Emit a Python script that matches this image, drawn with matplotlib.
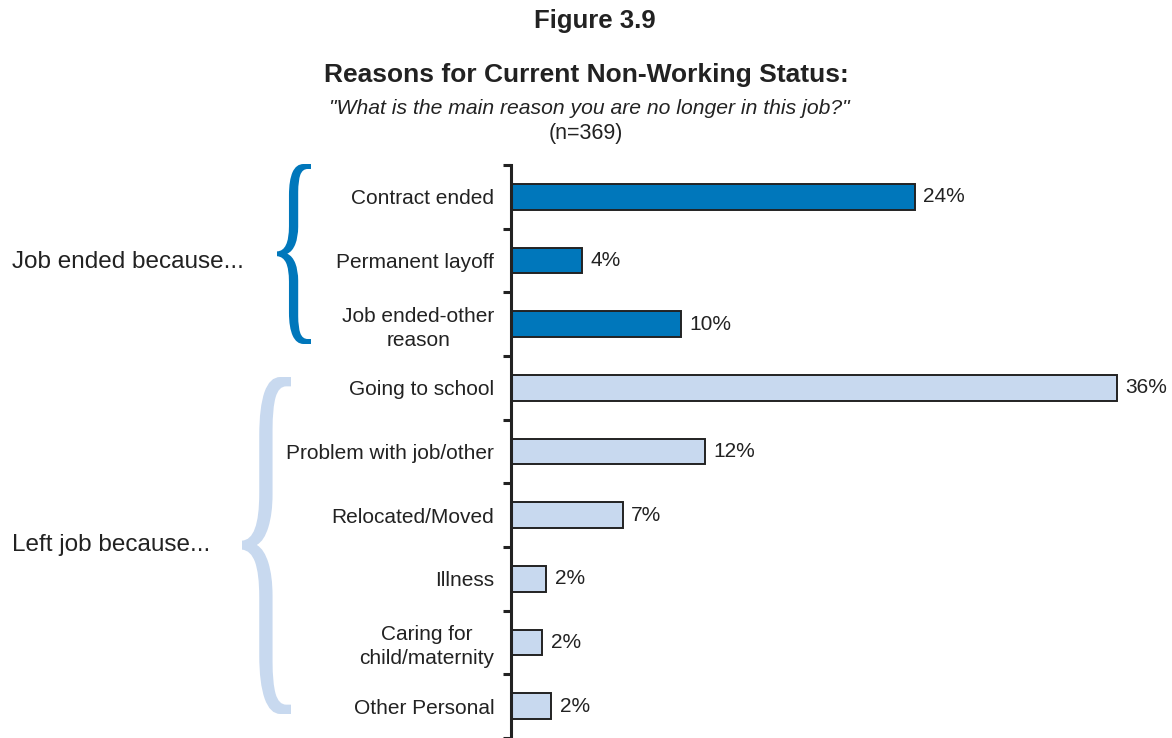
import matplotlib
matplotlib.use("Agg")
import matplotlib.pyplot as plt
from matplotlib.textpath import TextPath
from matplotlib.font_manager import FontProperties
from matplotlib.patches import PathPatch
from matplotlib.transforms import Affine2D
import numpy as np

plt.rcParams['font.family'] = ['Liberation Sans', 'DejaVu Sans']

categories = ["Contract ended", "Permanent layoff", "Job ended-other\nreason",
              "Going to school", "Problem with job/other", "Relocated/Moved",
              "Illness", "Caring for\nchild/maternity", "Other Personal"]
values = [24.0, 4.2, 10.1, 36.0, 11.5, 6.65, 2.1, 1.85, 2.4]
value_labels = ["24%", "4%", "10%", "36%", "12%", "7%", "2%", "2%", "2%"]
groups = [0, 0, 0, 1, 1, 1, 1, 1, 1]
group_names = ["Job ended because...", "Left job because..."]

dark_blue = "#0077BB"
light_blue = "#C8D9EF"
bar_colors = [dark_blue if g == 0 else light_blue for g in groups]
txt = "#222222"

W, H = 1172, 738
fig = plt.figure(figsize=(W / 100, H / 100), dpi=100)

def fx(x):
    return x / W

def fy(y):
    return 1 - y / H

# axes: spine at x=511, top at y=165, pitch 64 px per category
ax_left, ax_right, ax_top, ax_bot = 511, 1160, 165, 738
ax = fig.add_axes([fx(ax_left), fy(ax_bot), fx(ax_right - ax_left), (ax_bot - ax_top) / H])
px_per_pct = (1117 - 511) / 36.0
ax.set_xlim(0, (ax_right - ax_left) / px_per_pct)
n_vis = (ax_bot - ax_top) / 64.0
ax.set_ylim(-0.5 + n_vis, -0.5)

y = np.arange(len(categories))
ax.barh(y, values, height=0.4, color=bar_colors, edgecolor=txt, linewidth=1.4)
for yi, v, lab in zip(y, values, value_labels):
    ax.text(v + 0.5, yi, lab, va="center", ha="left", fontsize=15, color=txt)

for s in ["top", "right", "bottom"]:
    ax.spines[s].set_visible(False)
ax.spines["left"].set_linewidth(2.2)
ax.spines["left"].set_color(txt)
ax.set_xticks([])
ax.set_yticks(y)
ax.set_yticklabels(categories, fontsize=15, color=txt, linespacing=1.3)
for lbl in ax.get_yticklabels():
    lbl.set_multialignment("center")
ax.tick_params(axis="y", which="major", length=0, pad=12)
ax.set_yticks(np.arange(-0.5, len(categories), 1.0), minor=True)
ax.tick_params(axis="y", which="minor", length=6, width=2.2, color=txt, direction="out")

# titles
fig.text(fx(595), fy(21), "Figure 3.9", ha="center", va="center", fontsize=18.5, fontweight="bold", color=txt)
fig.text(fx(586), fy(75), "Reasons for Current Non-Working Status:", ha="center", va="center",
         fontsize=19, fontweight="bold", color=txt)
fig.text(fx(589), fy(108), "\"What is the main reason you are no longer in this job?\"", ha="center", va="center",
         fontsize=15.2, style="italic", color=txt)
fig.text(fx(586), fy(134), "(n=369)", ha="center", va="center", fontsize=15.5, color=txt)

# group labels
fig.text(fx(12), fy(262), group_names[0], ha="left", va="center", fontsize=17.5, color=txt)
fig.text(fx(12), fy(545), group_names[1], ha="left", va="center", fontsize=17.5, color=txt)

# braces from a stretched "{" glyph
brace = TextPath((0, 0), "{", size=1, prop=FontProperties(family="Liberation Serif"))
bb = brace.get_extents()

def draw_brace(x0, x1, y0, y1, color):
    tr = (Affine2D().translate(-bb.x0, -bb.y0)
          .scale(fx(x1 - x0) / bb.width, ((y1 - y0) / H) / bb.height)
          .translate(fx(x0), fy(y1)))
    fig.add_artist(PathPatch(brace, transform=tr + fig.transFigure, facecolor=color, edgecolor="none"))

draw_brace(277, 311, 164, 344, dark_blue)
draw_brace(242, 291, 377, 714, light_blue)

fig.savefig("out.png", dpi=100)
